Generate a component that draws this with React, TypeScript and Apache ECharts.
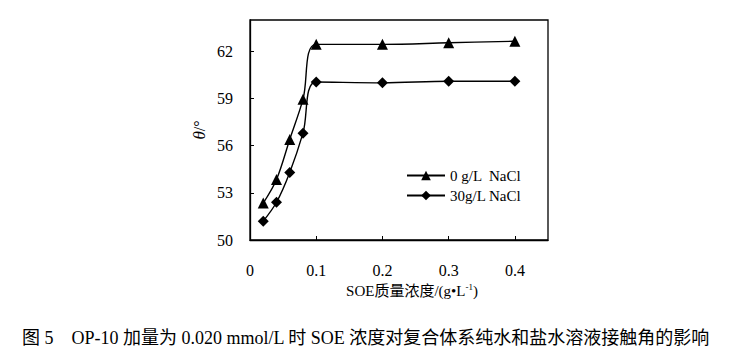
import React, { useEffect, useRef } from "react";
import * as echarts from "echarts";

const xValues = [0.02, 0.04, 0.06, 0.08, 0.1, 0.2, 0.3, 0.4];
const series0 = [52.35, 53.85, 56.4, 58.95, 62.45, 62.45, 62.55, 62.65];
const series30 = [51.2, 52.4, 54.3, 56.8, 60.05, 60.0, 60.1, 60.1];
const seriesNames = ["0 g/L  NaCl", "30g/L NaCl"];
const xAxisTitle = "SOE质量浓度/(g•L{sup|-1})";
const yAxisTitle = "{i|θ}/°";
const caption = "图 5　OP-10 加量为 0.020 mmol/L 时 SOE 浓度对复合体系纯水和盐水溶液接触角的影响";

const FONT = "Liberation Serif, Noto Sans CJK SC";

export default function App() {
  const ref = useRef<HTMLDivElement>(null);
  useEffect(() => {
    if (!ref.current) return;
    const chart = echarts.init(ref.current, undefined, { renderer: "svg" });
    const pair = (ys: number[]) => xValues.map((x, i) => [x, ys[i]]);
    chart.setOption({
      animation: false,
      backgroundColor: "#fff",
      grid: {
        left: 250,
        right: 187,
        top: 20,
        bottom: 121,
        show: true,
        borderColor: "#000",
        borderWidth: 1.3,
      },
      legend: {
        orient: "vertical",
        left: 401,
        top: 163,
        itemWidth: 38,
        itemHeight: 12,
        itemGap: 5,
        textStyle: { fontFamily: FONT, fontSize: 15, color: "#000" },
        data: seriesNames,
      },
      xAxis: {
        type: "value",
        min: 0,
        max: 0.45,
        interval: 0.1,
        name: xAxisTitle,
        nameLocation: "middle",
        nameGap: 41,
        nameTextStyle: {
          fontFamily: FONT,
          fontSize: 15,
          color: "#000",
          padding: [0, 0, 0, 26],
          rich: {
            sup: { fontFamily: FONT, fontSize: 9, color: "#000", verticalAlign: "top", padding: [0, 0, 8, 0] },
          },
        },
        axisLine: { lineStyle: { color: "#000", width: 1.3 } },
        axisTick: { inside: true, length: 4, lineStyle: { color: "#000" } },
        axisLabel: {
          showMaxLabel: false,
          margin: 22,
          fontFamily: FONT,
          fontSize: 16,
          color: "#000",
        },
        splitLine: { show: false },
      },
      yAxis: {
        type: "value",
        min: 50,
        max: 64,
        interval: 3,
        name: yAxisTitle,
        nameLocation: "middle",
        nameGap: 42,
        nameRotate: 90,
        nameTextStyle: {
          fontFamily: FONT,
          fontSize: 16,
          color: "#000",
          rich: {
            i: { fontFamily: FONT, fontSize: 17, fontStyle: "italic", color: "#000" },
          },
        },
        axisLine: { show: true, lineStyle: { color: "#000", width: 1.3 } },
        axisTick: { show: true, inside: true, length: 4, lineStyle: { color: "#000" } },
        axisLabel: {
          showMaxLabel: false,
          margin: 17,
          fontFamily: FONT,
          fontSize: 16,
          color: "#000",
        },
        splitLine: { show: false },
      },
      series: [
        {
          name: seriesNames[0],
          type: "line",
          data: pair(series0),
          smooth: 0.35,
          symbol: "triangle",
          symbolSize: 11,
          itemStyle: { color: "#000" },
          lineStyle: { color: "#000", width: 1.4 },
        },
        {
          name: seriesNames[1],
          type: "line",
          data: pair(series30),
          smooth: 0.35,
          symbol: "diamond",
          symbolSize: 11,
          itemStyle: { color: "#000" },
          lineStyle: { color: "#000", width: 1.4 },
        },
      ],
      graphic: [
        {
          type: "text",
          left: 22,
          top: 329,
          style: {
            text: caption,
            fontFamily: FONT,
            fontSize: 18,
            fill: "#000",
          },
        },
      ],
    });
    return () => chart.dispose();
  }, []);
  return <div ref={ref} style={{ width: 735, height: 361, position: "absolute", left: 0, top: 0 }} />;
}
